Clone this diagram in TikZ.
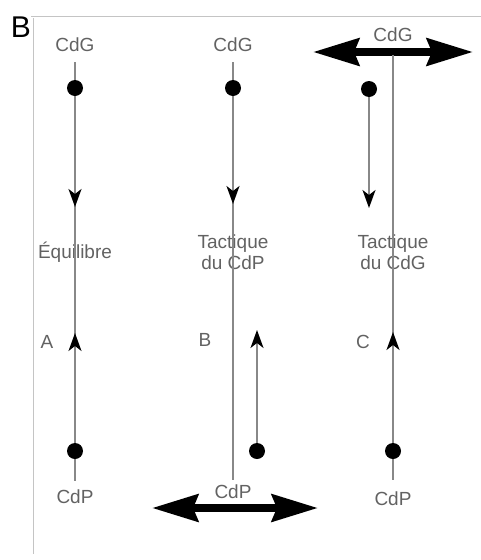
\documentclass[tikz,border=0pt]{standalone}
\usepackage{fontspec}
\setmainfont{Liberation Sans}
\usetikzlibrary{arrows.meta}
\definecolor{inkgray}{HTML}{626262}
\definecolor{linegray}{HTML}{888888}
\definecolor{framegray}{HTML}{C4C4C4}
\begin{document}
\begin{tikzpicture}[x=1pt,y=-1pt,
  lbl/.style={text=inkgray,font=\fontsize{19}{21}\selectfont,inner sep=0pt,align=center},
  axis/.style={draw=linegray,line width=1.8pt},
  pt/.style={circle,fill=black,inner sep=0pt,minimum size=16pt},
  flow/.style={axis,-{Stealth[length=18pt,width=13pt,inset=5pt,color=black]}},
  push/.style={draw=black,line width=8pt,
    {Stealth[length=46pt,width=27pt,inset=5pt]}-{Stealth[length=46pt,width=27pt,inset=5pt]}},
  frame/.style={draw=framegray,line width=0.8pt}]
\useasboundingbox (0,0) rectangle (481,560);

% panel letter and frame
\node[font=\fontsize{30}{30}\selectfont,inner sep=0pt] (panel) at (21,27) {B};
\coordinate (fr-tl) at (31,16);
\coordinate (fr-tr) at (481,16);
\coordinate (fr-bl) at (33,554);
\draw[frame] (fr-tr) -- (fr-tl);
\draw[frame] (33,18) -- (fr-bl);

% ---- column A: equilibrium ----
\node[lbl] (a-cdg) at (75,45) {CdG};
\node[lbl] (a-eq) at (75,252) {Équilibre};
\node[lbl] (a-tag) at (47,342) {A};
\node[lbl] (a-cdp) at (75,497) {CdP};
\coordinate (a-top) at (75,62);
\coordinate (a-bot) at (75,481);
\coordinate (a-down) at (75,207);
\coordinate (a-up) at (75,333);
\draw[axis] (a-top) -- (a-bot);
\node[pt] (a-g) at (75,88) {};
\node[pt] (a-p) at (75,451) {};
\draw[flow] (a-g) -- (a-down);
\draw[flow] (a-p) -- (a-up);

% ---- column B: centre of pressure moves ----
\node[lbl] (b-cdg) at (233,45) {CdG};
\node[lbl] (b-tac) at (233,252) {Tactique\\du CdP};
\node[lbl] (b-tag) at (205,340) {B};
\node[lbl] (b-cdp) at (233,492) {CdP};
\coordinate (b-top) at (233,62);
\coordinate (b-bot) at (233,480);
\coordinate (b-down) at (233,204);
\draw[axis] (b-top) -- (b-bot);
\node[pt] (b-g) at (233,88) {};
\draw[flow] (b-g) -- (b-down);
\node[pt] (b-p) at (257,451) {};
\coordinate (b-up) at (257,330);
\draw[flow] (b-p) -- (b-up);
\coordinate (b-l) at (152,508);
\coordinate (b-r) at (318,508);
\draw[push] (b-l) -- (b-r);

% ---- column C: centre of gravity moves ----
\node[lbl] (c-cdg) at (393,35) {CdG};
\node[lbl] (c-tac) at (393,252) {Tactique\\du CdG};
\node[lbl] (c-tag) at (363,342) {C};
\node[lbl] (c-cdp) at (393,499) {CdP};
\coordinate (c-l) at (313,52);
\coordinate (c-r) at (473,52);
\draw[push] (c-l) -- (c-r);
\coordinate (c-top) at (393,55);
\coordinate (c-bot) at (393,480);
\coordinate (c-up) at (393,332);
\draw[axis] (c-top) -- (c-bot);
\node[pt] (c-p) at (393,451) {};
\draw[flow] (c-p) -- (c-up);
\node[pt] (c-g) at (369,89) {};
\coordinate (c-down) at (369,208);
\draw[flow] (c-g) -- (c-down);
\end{tikzpicture}
\end{document}
